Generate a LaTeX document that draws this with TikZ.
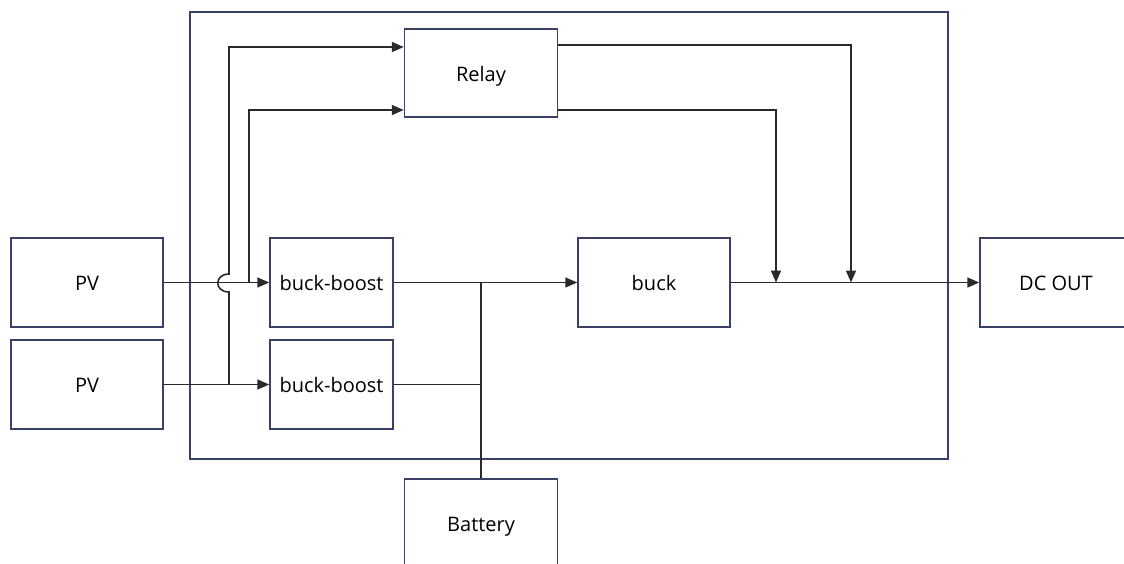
\documentclass[tikz,border=0pt]{standalone}
\usepackage{fontspec}
\setmainfont{Open Sans}
\usepackage{tikz}
\usetikzlibrary{arrows.meta}
\definecolor{boxline}{HTML}{3B4066}
\definecolor{wirecol}{HTML}{2A2A2A}

\begin{document}
\begin{tikzpicture}[x=1pt,y=-1pt,
  blk/.style={draw=boxline,line width=1.5pt,minimum width=152pt,minimum height=89pt,inner sep=0pt,text height=16pt,text depth=0pt,font=\fontsize{20}{24}\selectfont,text=black},
  wire/.style={draw=wirecol,line width=1.6pt},
  feed/.style={wire,-{Triangle[length=12pt,width=10pt]}}]
\useasboundingbox (0,0) rectangle (1124,563);
\draw[boxline,line width=1.5pt] (190,12) rectangle (948,459);
\node[blk] (pvA) at (87,282.5) {PV};
\node[blk] (pvB) at (87,384.5) {PV};
\node[blk,minimum width=123pt] (bbA) at (331.5,282.5) {buck-boost};
\node[blk,minimum width=123pt] (bbB) at (331.5,384.5) {buck-boost};
\node[blk,minimum width=153pt,minimum height=88pt] (relay) at (481,73) {Relay};
\node[blk] (buck) at (654,282.5) {buck};
\node[blk] (dcout) at (1056,282.5) {DC OUT};
\node[blk,minimum width=153pt] (battery) at (481,523.5) {Battery};
\coordinate (hopA) at (229,384.5);
\coordinate (tapA) at (249,282.5);
\coordinate (busT) at (481,282.5);
\coordinate (joinA) at (776,282.5);
\coordinate (joinB) at (851,282.5);
\draw[feed] (pvA) -- (bbA);
\draw[feed] (pvB) -- (bbB);
\draw[feed] (hopA) -- (229,292) .. controls (214,292) and (214,274) .. (229,274) |- (relay.west |- 0,47);
\draw[feed] (tapA) |- (relay.west |- 0,110);
\draw[feed] (bbA) -- (buck);
\draw[wire] (bbB.east) -- (bbB.east -| busT);
\draw[wire] (busT) -- (battery);
\draw[feed] (relay.east |- 0,45) -| (joinB);
\draw[feed] (relay.east |- 0,110) -| (joinA);
\draw[feed] (buck) -- (dcout);
\end{tikzpicture}
\end{document}
